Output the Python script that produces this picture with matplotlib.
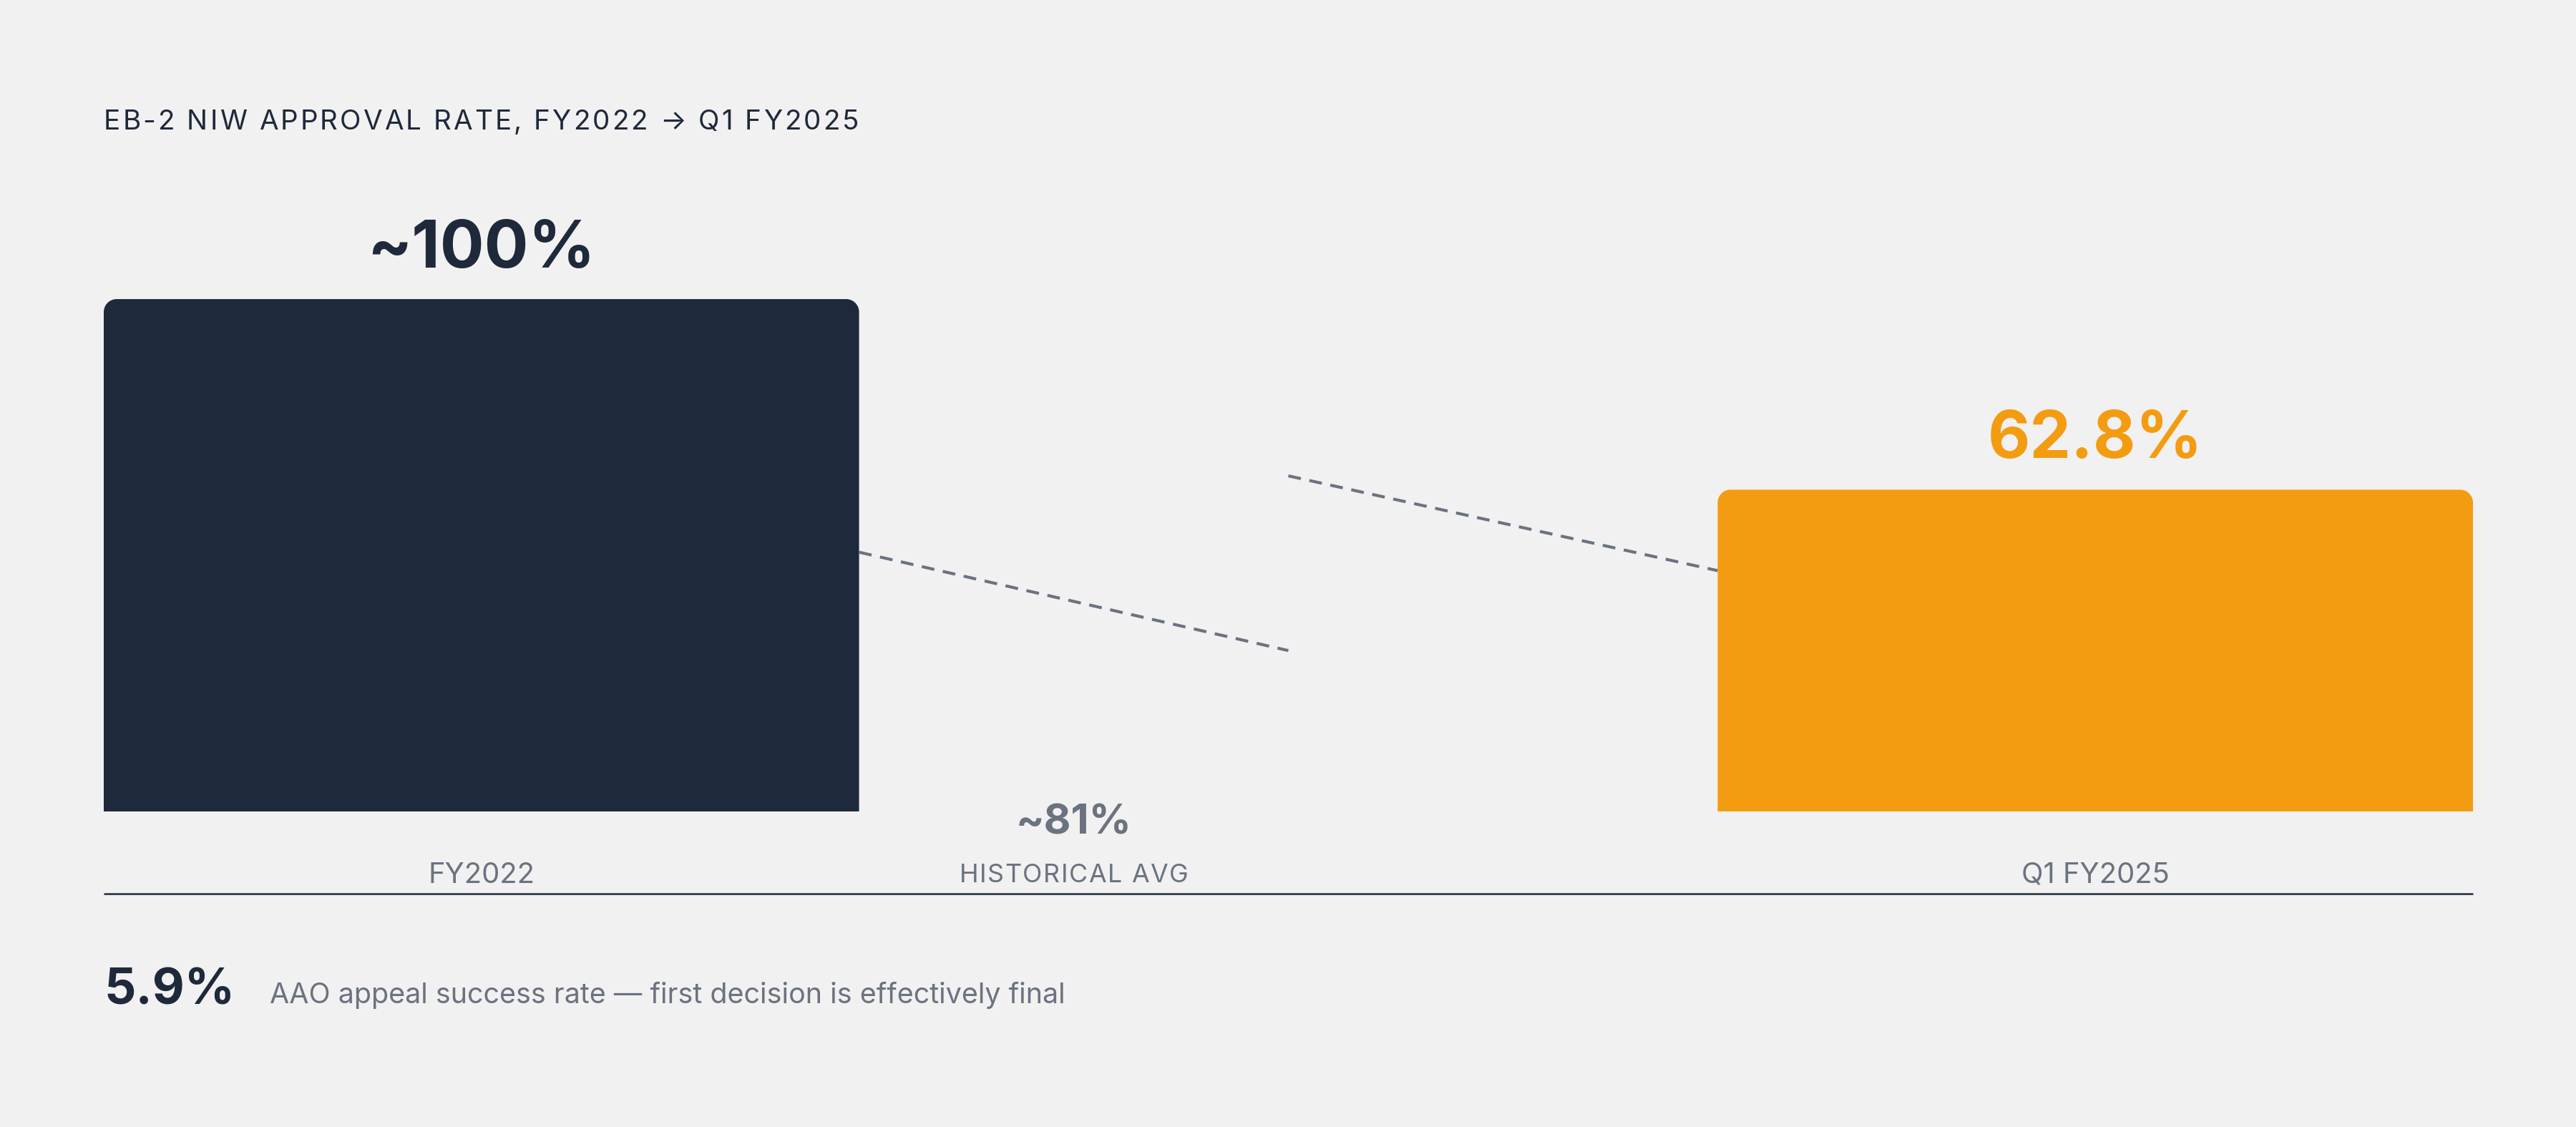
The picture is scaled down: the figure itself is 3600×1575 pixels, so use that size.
import matplotlib
matplotlib.use("Agg")
import matplotlib.pyplot as plt
from matplotlib.path import Path
from matplotlib.patches import PathPatch

## DATA
categories = ["FY2022", "Q1 FY2025"]
rates = [100, 62.8]
value_labels = ["~100%", "62.8%"]
hist_label = "~81%"
hist_name = "HISTORICAL AVG"
# dashed connector pieces (start, end) in % units
conn_left = [50.6, 31.4]
conn_right = [65.5, 47.0]
title = "EB-2 NIW APPROVAL RATE, FY2022 \u2192 Q1 FY2025"
foot_value = "5.9%"
foot_text = "AAO appeal success rate \u2014 first decision is effectively final"

## STYLE
BG = "#F1F1F1"
NAVY = "#1E293B"
ORANGE = "#F39C12"
GRAY = "#6B7280"
colors = [NAVY, ORANGE]
FONT = ["Inter", "DejaVu Sans"]
plt.rcParams["font.family"] = FONT

W, H, DPI = 3600, 1575, 200
fig = plt.figure(figsize=(W / DPI, H / DPI), dpi=DPI, facecolor=BG)
renderer = fig.canvas.get_renderer()

# axes box in pixels: x 145..3456, baseline at 1134, 100% at 418
ax_left, ax_right, base_px, top_px = 145, 3456, 1134, 418
ax = fig.add_axes([ax_left / W, 1 - base_px / H, (ax_right - ax_left) / W, (base_px - top_px) / H])
ax.set_facecolor(BG)
for s in ax.spines.values():
    s.set_visible(False)
ax.set_xticks([])
ax.set_yticks([])

positions = [0, 1]
bar_w = 0.468
hist_x = 0.367
ax.set_xlim(-bar_w / 2, 1 + bar_w / 2)
ax.set_ylim(0, 100)

# radius of the rounded top corners (18 px)
px_x = (1 + bar_w) / (ax_right - ax_left)
px_y = 100 / (base_px - top_px)
rx, ry = 18 * px_x, 18 * px_y


def top_round_bar(x0, x1, y1, color):
    k = 0.5523
    verts = [(x0, 0), (x0, y1 - ry),
             (x0, y1 - ry + k * ry), (x0 + rx - k * rx, y1), (x0 + rx, y1),
             (x1 - rx, y1),
             (x1 - rx + k * rx, y1), (x1, y1 - ry + k * ry), (x1, y1 - ry),
             (x1, 0), (x0, 0)]
    codes = [Path.MOVETO, Path.LINETO,
             Path.CURVE4, Path.CURVE4, Path.CURVE4,
             Path.LINETO,
             Path.CURVE4, Path.CURVE4, Path.CURVE4,
             Path.LINETO, Path.CLOSEPOLY]
    ax.add_patch(PathPatch(Path(verts, codes), facecolor=color, edgecolor="none", clip_on=False))


for x, v, c, lab in zip(positions, rates, colors, value_labels):
    top_round_bar(x - bar_w / 2, x + bar_w / 2, v, c)
    ax.annotate(lab, (x, v), xytext=(0, 16), textcoords="offset points",
                ha="center", va="baseline", fontsize=33, fontweight="bold", color=c)

# dashed connectors
mid = (positions[0] + positions[1]) / 2
ax.plot([positions[0] + bar_w / 2, mid], conn_left, color=GRAY, lw=1.5,
        dashes=(4.3, 2.9), clip_on=False)
ax.plot([mid, positions[1] - bar_w / 2], conn_right, color=GRAY, lw=1.5,
        dashes=(4.3, 2.9), clip_on=False)

# baseline rule below labels
rule_y = -(1249 - base_px) / (base_px - top_px)
ax.plot([0, 1], [rule_y, rule_y], transform=ax.transAxes, color=NAVY, lw=0.9,
        clip_on=False, solid_capstyle="butt")

lab_y = -(1234 - base_px) / (base_px - top_px)
tr = ax.get_xaxis_transform()
for x, cat in zip(positions, categories):
    ax.text(x, lab_y, cat, transform=tr, ha="center", va="baseline",
            fontsize=14.4, color=GRAY)

ax.text(hist_x, -(1165 - base_px) / (base_px - top_px), hist_label, transform=tr,
        ha="center", va="baseline", fontsize=21, fontweight="bold", color=GRAY)


def text_width(s, **kw):
    t = fig.text(0, 0, s, **kw)
    w = t.get_window_extent(renderer).width
    t.remove()
    return w


def spaced_text(x_px, y_px, s, tracking, ha="left", **kw):
    base = text_width("HH", **kw)
    widths = [text_width("H" + ch + "H", **kw) - base for ch in s]
    total = sum(widths) + tracking * (len(s) - 1)
    x = x_px if ha == "left" else x_px - total / 2
    for ch, w in zip(s, widths):
        fig.text(x / W, 1 - y_px / H, ch, ha="left", va="baseline", **kw)
        x += w + tracking


# title and historical label with letter spacing
spaced_text(145, 181, title, 3.1, fontsize=13.9, color=NAVY)
hx = ax_left + (hist_x + bar_w / 2) / (1 + bar_w) * (ax_right - ax_left)
spaced_text(hx, 1233, hist_name, 1.5, ha="center", fontsize=12.9, color=GRAY)

# footer
fig.text(145 / W, 1 - 1403 / H, foot_value, ha="left", va="baseline",
         fontsize=25, fontweight="bold", color=NAVY)
fig.text(377 / W, 1 - 1402 / H, foot_text, ha="left", va="baseline",
         fontsize=14.2, color=GRAY)

fig.savefig("out.png", dpi=DPI, facecolor=BG)
